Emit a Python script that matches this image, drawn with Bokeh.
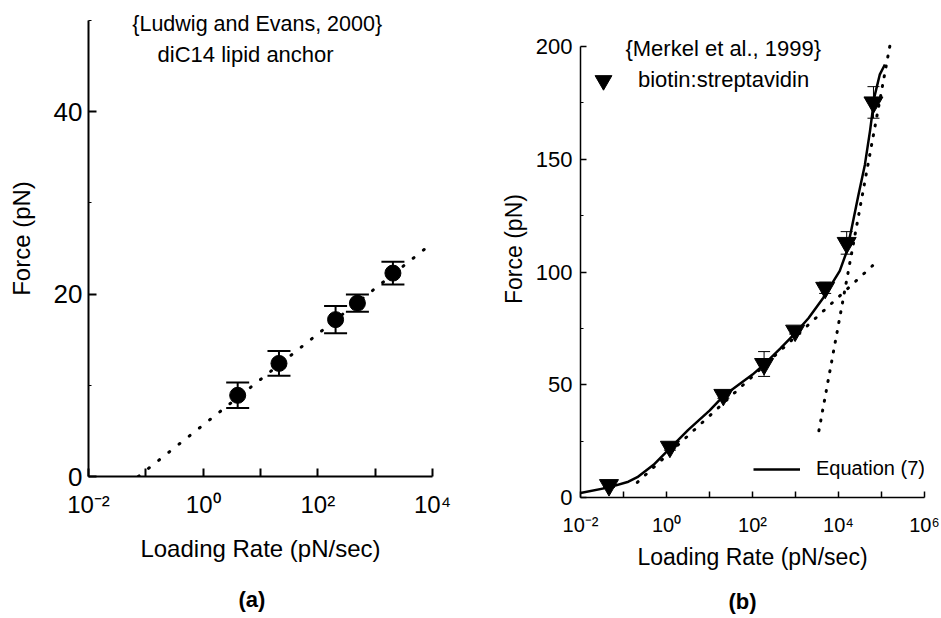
from bokeh.plotting import figure
from bokeh.models import (ColumnDataSource, FixedTicker, Whisker, TeeHead, Label,
                          Legend, LegendItem, Range1d)
from bokeh.layouts import row
from bokeh.embed import file_html
from bokeh.resources import INLINE

FONT = "Liberation Sans"

# ---------------- data: panel (a) ----------------
a_rate = [4.0, 21, 204, 490, 2040]
a_force = [8.9, 12.4, 17.2, 19.0, 22.3]
a_err = [1.4, 1.35, 1.5, 0.95, 1.25]
a_fit_rate = [0.074, 7200]
a_fit_force = [0.0, 24.9]

a_xticks = [1e-2, 1e-1, 1, 10, 100, 1e3, 1e4]
a_xlabels = ["10⁻²", "", "10⁰", "", "10²", "", "10⁴"]
a_yticks = [0, 20, 40]
a_yminor = [10, 30, 50]

# ---------------- data: panel (b) ----------------
b_rate = [0.046, 1.2, 21, 186, 980, 4900, 15500, 65000]
b_force = [5.5, 22.5, 45.5, 59.2, 74.0, 93.0, 112.9, 175.2]
b_err = [1.0, 1.5, 1.5, 5.5, 1.5, 2.5, 5.0, 7.0]

eq7_rate = [0.01, 0.046, 0.13, 0.21, 0.5, 1.23, 3.2, 10, 21, 100, 186, 440,
            1000, 2000, 4400, 10700, 15500, 20000, 29000, 41000, 54000,
            69000, 91000, 120000]
eq7_force = [2.0, 4.5, 7.0, 9.0, 14.5, 22.0, 30.0, 38.5, 45.0, 54.5, 59.0, 66.0,
             73.0, 79.5, 88.5, 100.5, 109.0, 119.0, 134.0, 147.5, 162.5,
             178.0, 187.5, 192.0]

fit_low_rate = [0.21, 62000]
fit_low_force = [6.7, 102.8]
fit_high_rate = [3500, 170000]
fit_high_force = [29.6, 204.0]

b_xticks = [1e-2, 1e-1, 1, 10, 100, 1e3, 1e4, 1e5, 1e6]
b_xlabels = ["10⁻²", "", "10⁰", "", "10²", "", "10⁴", "", "10⁶"]
b_yticks = [0, 50, 100, 150, 200]
b_yminor = [25, 75, 125, 175]


def style(p, xticks, xlabels, yticks, yminor, ybounds, xfs, yfs, lfs, lw,
          xstand, ystand, xlstand, ylstand, tick_len):
    p.grid.visible = False
    p.outline_line_color = None
    p.background_fill_color = "white"
    p.border_fill_color = "white"
    p.xaxis.ticker = FixedTicker(ticks=xticks, minor_ticks=[])
    p.xaxis.major_label_overrides = {t: l for t, l in zip(xticks, xlabels)}
    p.yaxis.ticker = FixedTicker(ticks=yticks, minor_ticks=yminor)
    p.yaxis.bounds = ybounds
    for ax in (p.xaxis[0], p.yaxis[0]):
        ax.axis_line_width = lw
        ax.axis_line_color = "black"
        ax.major_tick_line_color = "black"
        ax.minor_tick_line_color = "black"
        ax.major_tick_line_width = lw
        ax.minor_tick_line_width = 1
        ax.major_tick_in = tick_len
        ax.major_tick_out = 0
        ax.minor_tick_in = 3
        ax.minor_tick_out = 0
        ax.major_label_text_font = FONT
        ax.major_label_text_color = "black"
        ax.axis_label_text_font = FONT
        ax.axis_label_text_color = "black"
        ax.axis_label_text_font_style = "normal"
        ax.axis_label_text_font_size = lfs
    p.xaxis.major_label_text_font_size = xfs
    p.yaxis.major_label_text_font_size = yfs
    p.xaxis.major_label_standoff = xstand
    p.yaxis.major_label_standoff = ystand
    p.xaxis.axis_label_standoff = xlstand
    p.yaxis.axis_label_standoff = ylstand
    p.xaxis.axis_label = "Loading Rate (pN/sec)"
    p.yaxis.axis_label = "Force (pN)"


def style_title(p, offset, standoff):
    p.title.align = "left"
    p.title.offset = offset
    p.title.text_font = FONT
    p.title.text_font_size = "22px"
    p.title.text_font_style = "bold"
    p.title.text_color = "black"
    p.title.standoff = standoff


# ---------------- panel (a) ----------------
pa = figure(x_axis_type="log", x_range=Range1d(1e-2, 1e4), y_range=Range1d(0, 52.19),
            frame_width=344, frame_height=476,
            min_border_left=88, min_border_right=38, min_border_top=0, min_border_bottom=142,
            output_backend="svg", toolbar_location=None,
            title="(a)", title_location="below")
style(pa, a_xticks, a_xlabels, a_yticks, a_yminor, (0, 50), "24px", "26px", "24px", 2,
      14, 6, 14, 16, 8)
style_title(pa, 150, 40)

pa.line(a_fit_rate, a_fit_force, line_color="black", line_width=3,
        line_dash="1 12", line_cap="round")
src_a = ColumnDataSource(dict(x=a_rate, y=a_force,
                              upper=[f + e for f, e in zip(a_force, a_err)],
                              lower=[f - e for f, e in zip(a_force, a_err)]))
pa.add_layout(Whisker(source=src_a, base="x", upper="upper", lower="lower",
                      dimension="height", line_width=2, line_color="black",
                      upper_head=TeeHead(size=23, line_width=2, line_color="black"),
                      lower_head=TeeHead(size=23, line_width=2, line_color="black")))
pa.scatter("x", "y", source=src_a, marker="circle", size=16, color="black")

pa.add_layout(Label(x=0.058, y=49.6, text="{Ludwig and Evans, 2000}",
                    text_font=FONT, text_font_size="21.5px", text_baseline="middle",
                    text_align="left", text_color="black"))
pa.add_layout(Label(x=0.16, y=46.3, text="diC14 lipid anchor",
                    text_font=FONT, text_font_size="22px", text_baseline="middle",
                    text_align="left", text_color="black"))

# ---------------- panel (b) ----------------
pb = figure(x_axis_type="log", x_range=Range1d(1e-2, 1e6), y_range=Range1d(0, 220.4),
            frame_width=344, frame_height=497,
            min_border_left=110, min_border_right=17, min_border_top=0, min_border_bottom=121,
            output_backend="svg", toolbar_location=None,
            title="(b)", title_location="below")
style(pb, b_xticks, b_xlabels, b_yticks, b_yminor, (0, 200), "20px", "22px", "23px", 1.5,
      16, 8, 5, 6, 6)
style_title(pb, 148, 28)

pb.line(fit_low_rate, fit_low_force, line_color="black", line_width=3,
        line_dash="1 10", line_cap="round")
pb.line(fit_high_rate, fit_high_force, line_color="black", line_width=3,
        line_dash="1 9", line_cap="round")
r_eq = pb.line(eq7_rate, eq7_force, line_color="black", line_width=2.5)
src_b = ColumnDataSource(dict(x=b_rate, y=b_force,
                              upper=[f + e for f, e in zip(b_force, b_err)],
                              lower=[f - e for f, e in zip(b_force, b_err)]))
pb.add_layout(Whisker(source=src_b, base="x", upper="upper", lower="lower",
                      dimension="height", line_width=1, line_color="black",
                      upper_head=TeeHead(size=12, line_width=1, line_color="black"),
                      lower_head=TeeHead(size=12, line_width=1, line_color="black")))
r_pts = pb.scatter("x", "y", source=src_b, marker="inverted_triangle", size=19,
                   color="black")

leg1 = Legend(items=[LegendItem(label="biotin:streptavidin", renderers=[r_pts])],
              location=(2, 396), glyph_width=42, glyph_height=42, label_standoff=14,
              padding=0, margin=0, spacing=0, border_line_alpha=0,
              background_fill_alpha=0, label_text_font=FONT,
              label_text_font_size="22px", label_text_color="black")
leg2 = Legend(items=[LegendItem(label="Equation (7)", renderers=[r_eq])],
              location=(173, 17), glyph_width=47, glyph_height=20, label_standoff=16,
              padding=0, margin=0, spacing=0, border_line_alpha=0,
              background_fill_alpha=0, label_text_font=FONT,
              label_text_font_size="20px", label_text_color="black")
pb.add_layout(leg1)
pb.add_layout(leg2)

pb.add_layout(Label(x=0.111, y=199.1, text="{Merkel et al., 1999}",
                    text_font=FONT, text_font_size="22px", text_baseline="middle",
                    text_align="left", text_color="black"))

layout = row(pa, pb)
open("out.html", "w").write(file_html(layout, INLINE))
